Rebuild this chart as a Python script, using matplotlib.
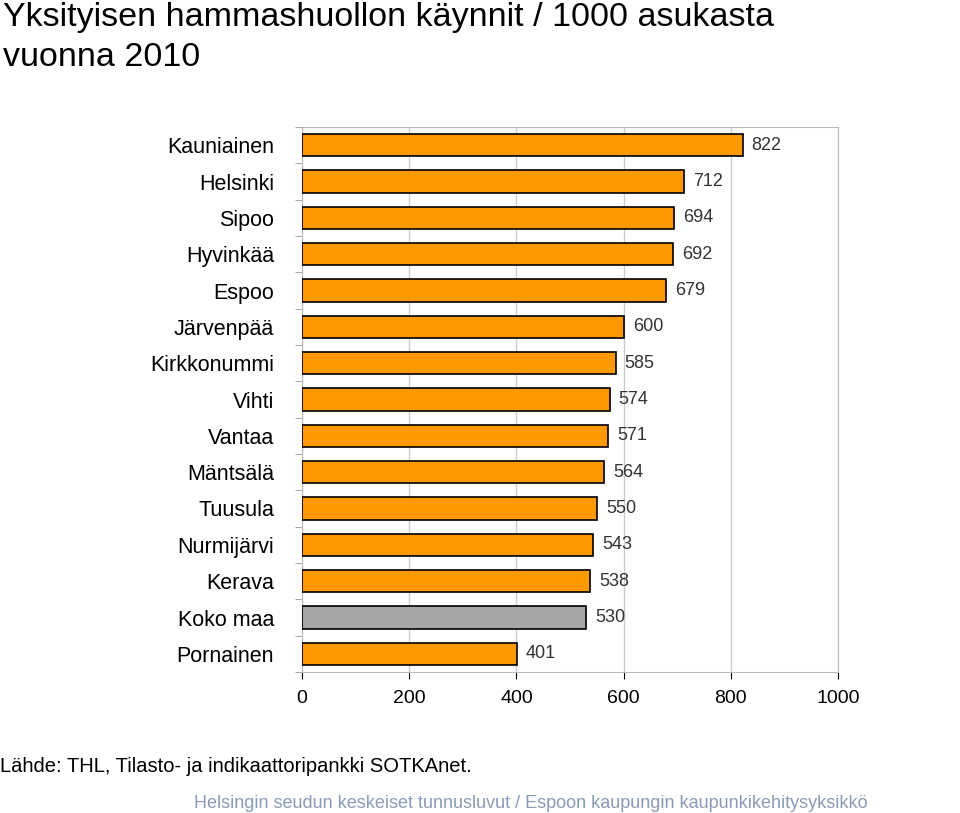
import matplotlib
matplotlib.use("Agg")
import matplotlib.pyplot as plt

municipalities = ["Kauniainen", "Helsinki", "Sipoo", "Hyvinkää", "Espoo", "Järvenpää",
                  "Kirkkonummi", "Vihti", "Vantaa", "Mäntsälä", "Tuusula", "Nurmijärvi",
                  "Kerava", "Koko maa", "Pornainen"]
visits = [822, 712, 694, 692, 679, 600, 585, 574, 571, 564, 550, 543, 538, 530, 401]
x_ticks = [0, 200, 400, 600, 800, 1000]

ORANGE = "#ff9900"
GREY = "#a6a6a6"

plt.rcParams.update({"font.family": "Liberation Sans"})
fig = plt.figure(figsize=(9.6, 8.13), dpi=100)
ax = fig.add_axes([302 / 960, 1 - 672 / 813, 536 / 960, 545 / 813])

n = len(municipalities)
ypos = list(range(n))
colors = [GREY if m == "Koko maa" else ORANGE for m in municipalities]
ax.barh(ypos, visits, height=0.62, color=colors, edgecolor="black", linewidth=1.2, zorder=3)
for y, v in zip(ypos, visits):
    ax.text(v + 17, y, str(v), va="center", ha="left", fontsize=13, color="#333333", zorder=4)

ax.set_ylim(n - 0.5, -0.5)
ax.set_xlim(0, 1000)
ax.set_xticks(x_ticks)
ax.set_xticklabels([str(t) for t in x_ticks], fontsize=14)
ax.set_yticks(ypos)
ax.set_yticklabels(municipalities, fontsize=15.5)
ax.tick_params(axis="y", length=0, pad=20)
ax.tick_params(axis="x", length=5, pad=8)
ax.set_yticks([y + 0.5 for y in range(-1, n)], minor=True)
ax.tick_params(axis="y", which="minor", length=5, color="#999999")
ax.grid(axis="x", color="#cccccc", linewidth=1, zorder=0)
for s in ax.spines.values():
    s.set_color("#bbbbbb")

fig.text(0.003, 0.998, "Yksityisen hammashuollon käynnit / 1000 asukasta\nvuonna 2010",
         fontsize=24.5, va="top", ha="left", linespacing=1.4)
fig.text(0.0, 0.057, "Lähde: THL, Tilasto- ja indikaattoripankki SOTKAnet.", fontsize=14.5, va="center")
fig.text(0.553, 0.012, "Helsingin seudun keskeiset tunnusluvut / Espoon kaupungin kaupunkikehitysyksikkö",
         fontsize=13, color="#8a9bb5", ha="center", va="center")

fig.savefig("out.png", dpi=100)
